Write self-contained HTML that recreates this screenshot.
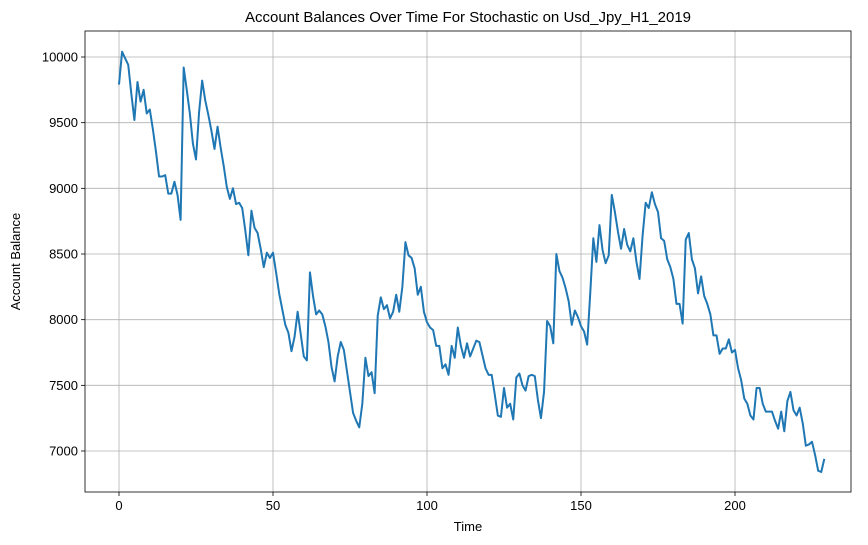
<!DOCTYPE html>
<html><head><meta charset="utf-8"><style>
body{margin:0;background:#fff;}
svg{display:block;font-family:"Liberation Sans","DejaVu Sans",sans-serif;}
</style></head><body>
<svg id="chart" width="868" height="545" xmlns="http://www.w3.org/2000/svg"></svg>
<script>
const balances = [9790,10040,9990,9940,9720,9520,9810,9660,9750,9570,9600,9450,9280,9090,9090,9100,8960,8960,9050,8950,8760,9920,9750,9570,9340,9220,9580,9820,9670,9560,9440,9300,9470,9310,9170,9010,8920,9000,8880,8890,8850,8680,8490,8830,8700,8660,8540,8400,8510,8470,8510,8360,8200,8080,7960,7900,7760,7870,8060,7890,7720,7690,8360,8180,8040,8070,8040,7950,7830,7640,7530,7720,7830,7770,7610,7450,7290,7230,7180,7360,7710,7570,7600,7440,8030,8170,8080,8110,8010,8060,8190,8060,8250,8590,8490,8470,8390,8190,8250,8060,7980,7940,7920,7800,7800,7630,7660,7580,7800,7710,7940,7800,7710,7820,7720,7780,7840,7830,7730,7630,7580,7580,7430,7270,7260,7480,7330,7360,7240,7560,7590,7500,7460,7570,7580,7570,7390,7250,7450,7990,7950,7820,8500,8370,8320,8240,8140,7960,8070,8020,7950,7910,7810,8200,8620,8440,8720,8530,8430,8490,8950,8820,8670,8540,8690,8570,8520,8620,8440,8310,8640,8890,8850,8970,8880,8820,8620,8600,8460,8400,8310,8120,8120,7970,8610,8660,8460,8390,8200,8330,8180,8120,8040,7880,7880,7740,7780,7780,7850,7750,7770,7630,7540,7400,7360,7270,7240,7480,7480,7360,7300,7300,7300,7230,7170,7300,7150,7380,7450,7310,7270,7330,7210,7040,7050,7070,6970,6850,6840,6940];
const xTicks = [0,50,100,150,200];
const yTicks = [7000,7500,8000,8500,9000,9500,10000];

const L=85,R=851,T=31,B=492;
const xs=v=>119+(735-119)*v/200;
const ys=v=>451-(451-57)*(v-7000)/3000;
const svg=document.getElementById('chart');
const NS='http://www.w3.org/2000/svg';
function mk(tag,attrs,parent){const e=document.createElementNS(NS,tag);for(const k in attrs)e.setAttribute(k,attrs[k]);(parent||svg).appendChild(e);return e;}

const grid=mk('g',{});


xTicks.forEach(t=>{
  const x=xs(t);
  const l=mk('line',{x1:x,x2:x,y1:T,y2:B,stroke:'#b0b0b0','stroke-width':0.8},grid);
  
  
  mk('line',{x1:x,x2:x,y1:B,y2:B+4,stroke:'#000','stroke-width':0.8});
  const tx=mk('text',{x:x,y:B+18,'text-anchor':'middle','font-size':13,fill:'#000'});
  tx.textContent=t;
  
  
});
yTicks.forEach(t=>{
  const y=ys(t);
  const l=mk('line',{x1:L,x2:R,y1:y,y2:y,stroke:'#b0b0b0','stroke-width':0.8},grid);
  
  
  mk('line',{x1:L-4,x2:L,y1:y,y2:y,stroke:'#000','stroke-width':0.8});
  const tx=mk('text',{x:L-7,y:y+4.5,'text-anchor':'end','font-size':13,fill:'#000'});
  tx.textContent=t;
  
  
});

const pts=balances.map((v,i)=>xs(i).toFixed(2)+','+ys(v).toFixed(2)).join(' ');
const line=mk('polyline',{points:pts,fill:'none',stroke:'#1f77b4','stroke-width':2,'stroke-linejoin':'round'});



const frame=mk('rect',{x:L,y:T,width:R-L,height:B-T,fill:'none',stroke:'#000','stroke-width':0.8});



const title=mk('text',{x:(L+R)/2,y:22,'text-anchor':'middle','font-size':15,fill:'#000'});
title.textContent='Account Balances Over Time For Stochastic on Usd_Jpy_H1_2019';



const xl=mk('text',{x:(L+R)/2,y:531,'text-anchor':'middle','font-size':13,fill:'#000'});
xl.textContent='Time';



const yl=mk('text',{x:0,y:0,'text-anchor':'middle','font-size':13,fill:'#000',transform:'translate(20,'+((T+B)/2)+') rotate(-90)'});
yl.textContent='Account Balance';


</script>
</body></html>
